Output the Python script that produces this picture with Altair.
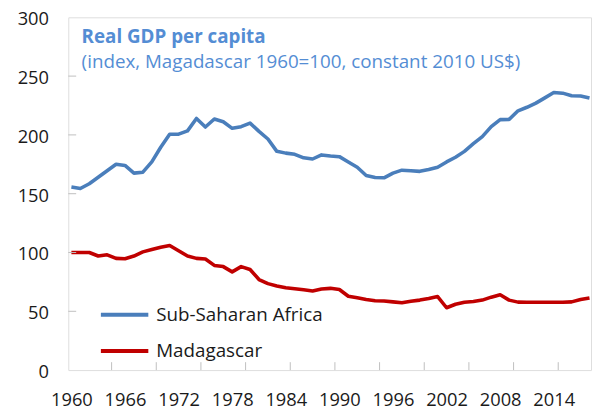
import altair as alt
import pandas as pd

# ---- data ----
years = list(range(1960, 2019))
ssa = [155.7, 154.4, 158.5, 164, 169.5, 175, 174, 167.5, 168.3, 177,
       189.5, 200.6, 200.6, 203.4, 214, 206.7, 213.5, 211.2, 205.6, 207,
       210, 203, 196.5, 186, 184.5, 183.5, 180.5, 179.5, 183, 182,
       181.5, 177, 172.5, 165.5, 163.8, 163.5, 167.5, 170, 169.5, 169,
       170.5, 172.5, 177, 181, 186, 192.5, 198.5, 207, 213, 213.2,
       220.5, 223.5, 227, 231.5, 236, 235.5, 233.3, 233, 231.3]
mdg = [100, 100, 100, 97, 98, 95, 94.7, 97, 100.5, 102.5,
       104.5, 106, 101.5, 97, 95, 94.5, 89, 88, 83.5, 88,
       85.5, 77, 73.5, 71.5, 70, 69.2, 68.3, 67.3, 69, 69.5,
       68.5, 62.8, 61.5, 60, 59, 58.8, 58, 57.2, 58.5, 59.5,
       60.8, 62.5, 53, 56, 57.7, 58.3, 59.5, 62, 64, 59.5,
       57.8, 57.7, 57.7, 57.7, 57.7, 57.7, 58, 60, 61.3]
series_names = ["Sub-Saharan Africa", "Madagascar"]
series_colors = ["#4a7ebb", "#c00000"]
x_label_years = [1960, 1966, 1972, 1978, 1984, 1990, 1996, 2002, 2008, 2014]
x_tick_years = [1964.5, 1969.5, 1974.5, 1979.5, 1984.5, 1989.5, 1994.5, 1999.5, 2004.5, 2009.5, 2014.5]
y_label_values = [0, 50, 100, 150, 200, 250, 300]
y_tick_values = [50, 100, 150, 200, 250]
title_text = "Real GDP per capita"
subtitle_text = "(index, Magadascar 1960=100, constant 2010 US$)"

W, H = 529, 357
FONT = "Open Sans"
GREY = "#bfbfbf"
TXT = "#1a1a1a"
TITLE_C = "#548dd4"

df = pd.DataFrame({
    "year": years + years,
    "value": ssa + mdg,
    "series": [series_names[0]] * len(years) + [series_names[1]] * len(years),
})

x_scale = alt.Scale(domain=[1959.65, 2018.17], nice=False, zero=False)
y_scale = alt.Scale(domain=[0, 300], nice=False)

x_axis = alt.Axis(values=x_label_years, format="d", labelFontSize=18.5,
                  labelFont=FONT, labelColor=TXT, ticks=False, tickSize=0,
                  domain=False, grid=False, labelPadding=36,
                  labelBaseline="alphabetic", labelFlush=False, title=None)
y_axis = alt.Axis(values=y_label_values, labelFontSize=18.5, labelFont=FONT,
                  labelColor=TXT, ticks=False, tickSize=0, domain=False,
                  grid=False, labelPadding=20, labelOffset=1.5, title=None)

lines = alt.Chart(df).mark_line(strokeWidth=3.6, strokeJoin="round").encode(
    x=alt.X("year:Q", scale=x_scale, axis=x_axis),
    y=alt.Y("value:Q", scale=y_scale, axis=y_axis),
    color=alt.Color("series:N",
                    scale=alt.Scale(domain=series_names, range=series_colors),
                    legend=alt.Legend(title=None, orient="none", legendX=31, legendY=275,
                                      symbolType="stroke", symbolSize=2304,
                                      symbolStrokeWidth=4, labelFontSize=19,
                                      labelFont=FONT, labelColor=TXT, labelOffset=6,
                                      labelLimit=400, rowPadding=0.6, padding=0)),
)

xticks = alt.Chart(pd.DataFrame({"year": x_tick_years})).mark_rule(
    color=GREY, strokeWidth=1).encode(
    x=alt.X("year:Q", scale=x_scale, axis=x_axis),
    y=alt.value(H), y2=alt.value(H - 8))

yticks = alt.Chart(pd.DataFrame({"value": y_tick_values})).mark_rule(
    color=GREY, strokeWidth=1).encode(
    y=alt.Y("value:Q", scale=y_scale, axis=y_axis),
    x=alt.value(0), x2=alt.value(8))

title = alt.Chart(pd.DataFrame({"t": [title_text]})).mark_text(
    align="left", baseline="alphabetic", font=FONT, fontSize=19,
    fontWeight="bold", color=TITLE_C).encode(
    text="t:N", x=alt.value(13.5), y=alt.value(26))

subtitle = alt.Chart(pd.DataFrame({"t": [subtitle_text]})).mark_text(
    align="left", baseline="alphabetic", font=FONT, fontSize=19,
    color=TITLE_C).encode(
    text="t:N", x=alt.value(13.5), y=alt.value(51.5))

chart = alt.layer(lines, xticks, yticks, title, subtitle).properties(
    width=W, height=H,
    autosize=alt.AutoSizeParams(type="none"),
    padding={"left": 61, "top": 7, "right": 1, "bottom": 40},
).configure_view(stroke=GREY, strokeWidth=1).configure(background="white")

chart.save("out.html", embed_options={"renderer": "svg", "actions": False})
